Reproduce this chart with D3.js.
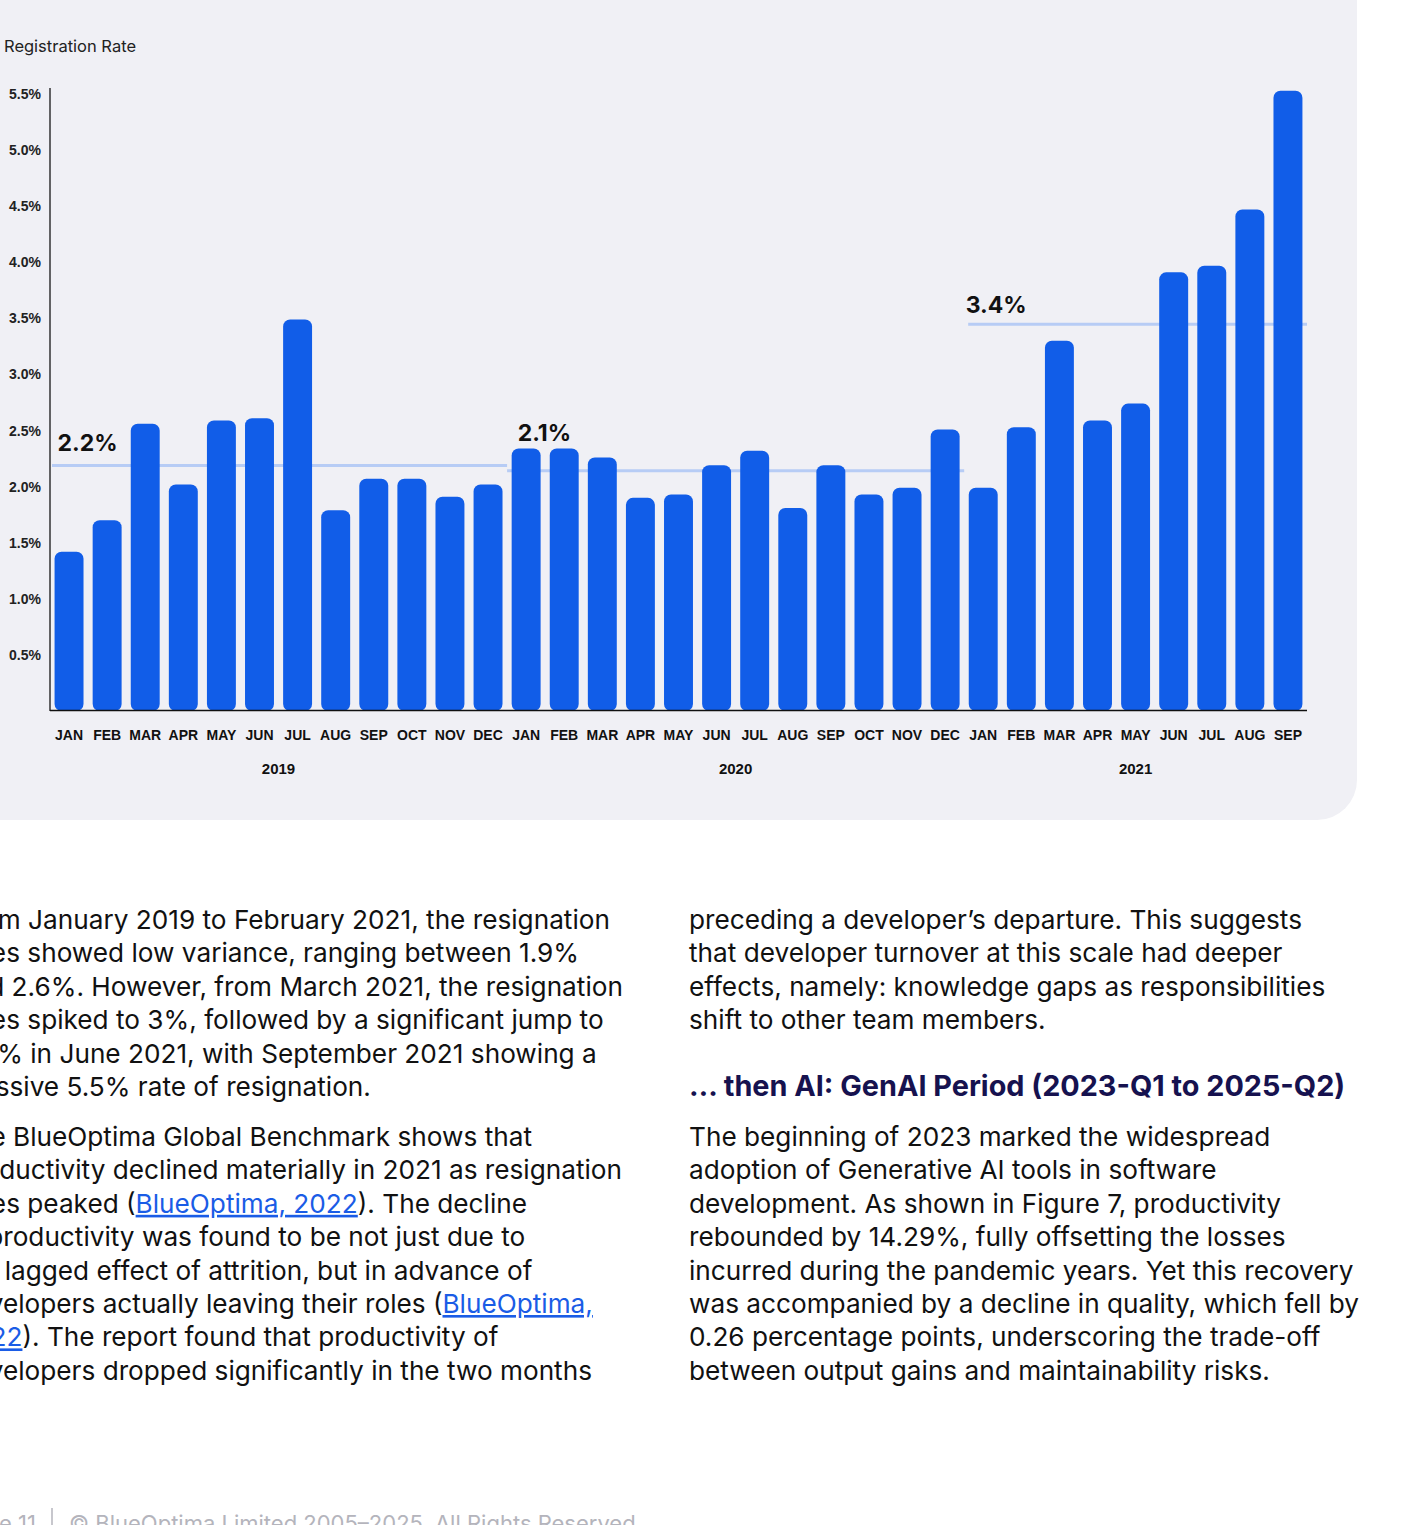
<!DOCTYPE html>
<html><head><meta charset="utf-8">
<script src="https://cdn.jsdelivr.net/npm/d3@7"></script>
<style>body{margin:0;background:#fff;overflow:hidden} svg{display:block}</style>
</head><body><svg id="c" width="1428" height="1525"></svg>
<script>
// ---------- data ----------
const months = ["JAN","FEB","MAR","APR","MAY","JUN","JUL","AUG","SEP","OCT","NOV","DEC",
                "JAN","FEB","MAR","APR","MAY","JUN","JUL","AUG","SEP","OCT","NOV","DEC",
                "JAN","FEB","MAR","APR","MAY","JUN","JUL","AUG","SEP"];
const yearOfBar = ["2019","2019","2019","2019","2019","2019","2019","2019","2019","2019","2019","2019",
                   "2020","2020","2020","2020","2020","2020","2020","2020","2020","2020","2020","2020",
                   "2021","2021","2021","2021","2021","2021","2021","2021","2021"];
const rates = [1.42,1.70,2.56,2.02,2.59,2.61,3.49,1.79,2.07,2.07,1.91,2.02,
               2.34,2.34,2.26,1.90,1.93,2.19,2.32,1.81,2.19,1.93,1.99,2.51,
               1.99,2.53,3.30,2.59,2.74,3.91,3.97,4.47,5.53];
const years = ["2019","2020","2021"];
const avgLabels = ["2.2%","2.1%","3.4%"];
const yTicks = [0.5,1.0,1.5,2.0,2.5,3.0,3.5,4.0,4.5,5.0,5.5];
const yTitle = "Registration Rate";

const leftLines = [
  [{t:"From January 2019 to February 2021, the resignation"}],
  [{t:"rates showed low variance, ranging between 1.9%"}],
  [{t:"and 2.6%. However, from March 2021, the resignation"}],
  [{t:"rates spiked to 3%, followed by a significant jump to"}],
  [{t:"3.9% in June 2021, with September 2021 showing a"}],
  [{t:"massive 5.5% rate of resignation."}],
  null,
  [{t:"The BlueOptima Global Benchmark shows that"}],
  [{t:"productivity declined materially in 2021 as resignation"}],
  [{t:"rates peaked ("},{t:"BlueOptima, 2022",link:true},{t:"). The decline"}],
  [{t:"in productivity was found to be not just due to"}],
  [{t:"the lagged effect of attrition, but in advance of"}],
  [{t:"developers actually leaving their roles ("},{t:"BlueOptima, ",link:true}],
  [{t:"2022",link:true},{t:"). The report found that productivity of"}],
  [{t:"developers dropped significantly in the two months"}]
];
const rightLines1 = [
  "preceding a developer\u2019s departure. This suggests",
  "that developer turnover at this scale had deeper",
  "effects, namely: knowledge gaps as responsibilities",
  "shift to other team members."
];
const heading = "\u2026 then AI: GenAI Period (2023-Q1 to 2025-Q2)";
const rightLines2 = [
  "The beginning of 2023 marked the widespread",
  "adoption of Generative AI tools in software",
  "development. As shown in Figure 7, productivity",
  "rebounded by 14.29%, fully offsetting the losses",
  "incurred during the pandemic years. Yet this recovery",
  "was accompanied by a decline in quality, which fell by",
  "0.26 percentage points, underscoring the trade-off",
  "between output gains and maintainability risks."
];
const footerPage = "Page 11";
const footerText = "\u00A9 BlueOptima Limited 2005\u20132025. All Rights Reserved";

// ---------- drawing ----------
const svg = d3.select("#c");
const BLUE = "#115DE8";
const chartFont = "'Liberation Sans', Arial, sans-serif";
const bodyFont = "Inter, 'Noto Sans', sans-serif";

// panel
svg.append("rect").attr("x",-60).attr("y",-60).attr("width",1417).attr("height",880)
  .attr("rx",40).attr("fill","#F0F0F5");

const idx = d3.range(rates.length);
const x = d3.scaleBand().domain(idx).range([50,1307]).paddingInner(0.24).paddingOuter(0.12);
const y = d3.scaleLinear().domain([0,5.5]).range([711,94]);

// y title
svg.append("text").attr("x",4).attr("y",52).attr("font-family",bodyFont)
  .attr("font-size",16.5).attr("fill","#222").text(yTitle);

// y axis
const yAxis = d3.axisLeft(y).tickValues(yTicks).tickSize(0).tickPadding(9)
  .tickFormat(d => d.toFixed(1) + "%");
const gy = svg.append("g").attr("transform","translate(50,0)").call(yAxis);
gy.select(".domain").remove();
gy.selectAll("text").attr("font-family",chartFont).attr("font-weight","bold")
  .attr("font-size",14).attr("fill","#222");
svg.append("line").attr("x1",50).attr("x2",50).attr("y1",88).attr("y2",711)
  .attr("stroke","#333").attr("stroke-width",1.5);

// average lines
const labelOffsets = [15, 7.5, 11];
years.forEach((yr,k) => {
  const ids = idx.filter(i => yearOfBar[i] === yr);
  const avg = d3.mean(ids, i => rates[i]);
  const step = x.step();
  const x0 = k === 0 ? 52 : x(ids[0]) - step*0.12 + (k === 2 ? 4 : 0);
  const x1 = k === 2 ? 1307 : x(ids[ids.length-1]) + x.bandwidth() + step*0.12;
  svg.append("line").attr("x1",x0).attr("x2",x1).attr("y1",y(avg)).attr("y2",y(avg))
    .attr("stroke","#B7CCF5").attr("stroke-width",3);
  const ly = Math.min(y(avg), y(rates[ids[0]])) - labelOffsets[k];
  svg.append("text").attr("x",x(ids[0]) + (k===1?6:(k===2?-3:3))).attr("y",ly)
    .attr("font-family",bodyFont).attr("font-weight","bold").attr("font-size",23)
    .attr("fill","#111").text(avgLabels[k]);
});

// bars
svg.append("g").selectAll("rect").data(idx).join("rect")
  .attr("x", i => x(i)).attr("width", x.bandwidth())
  .attr("y", i => y(rates[i])).attr("height", i => y(0) - y(rates[i]))
  .attr("rx",7).attr("fill",BLUE);

// x axis
const xAxis = d3.axisBottom(x).tickSize(0).tickPadding(20).tickFormat(i => months[i]);
const gx = svg.append("g").attr("transform","translate(0,710)").call(xAxis);
gx.select(".domain").remove();
gx.selectAll("text").attr("font-family",chartFont).attr("font-weight","bold")
  .attr("font-size",14).attr("fill","#111");
svg.append("line").attr("x1",50).attr("x2",1307).attr("y1",710.5).attr("y2",710.5)
  .attr("stroke","#111").attr("stroke-width",1.5);

// year labels
years.forEach(yr => {
  const ids = idx.filter(i => yearOfBar[i] === yr);
  const cx = (x(ids[0]) + x(ids[ids.length-1]) + x.bandwidth()) / 2;
  svg.append("text").attr("x",cx).attr("y",773.5).attr("text-anchor","middle")
    .attr("font-family",chartFont).attr("font-weight","bold").attr("font-size",15)
    .attr("fill","#111").text(yr);
});

// ---------- body text ----------
const LH = 33.4, FS = 26.2;
function drawLines(lines, x0, yStart) {
  lines.forEach((ln,i) => {
    if (!ln) return;
    const t = svg.append("text").attr("x",x0).attr("y",yStart + i*LH)
      .attr("font-family",bodyFont).attr("font-size",FS).attr("fill","#111");
    (typeof ln === "string" ? [{t:ln}] : ln).forEach(s => {
      const ts = t.append("tspan").text(s.t);
      if (s.link) ts.attr("fill","#1A5CE6").attr("text-decoration","underline");
    });
  });
}
drawLines(leftLines.slice(0,6), -42, 929);
drawLines(leftLines.slice(7), -42, 1146);
drawLines(rightLines1, 689, 929);
svg.append("text").attr("x",689).attr("y",1096).attr("font-family",bodyFont)
  .attr("font-weight","bold").attr("font-size",28.8).attr("fill","#16124F").text(heading);
drawLines(rightLines2, 689, 1146);

// footer
svg.append("text").attr("x",36).attr("y",1531).attr("text-anchor","end").attr("font-family",bodyFont)
  .attr("font-size",22).attr("fill","#B4B4BC").text(footerPage);
svg.append("line").attr("x1",52).attr("x2",52).attr("y1",1508).attr("y2",1525)
  .attr("stroke","#B4B4BC").attr("stroke-width",1.5);
svg.append("text").attr("x",69).attr("y",1531).attr("font-family",bodyFont)
  .attr("font-size",22).attr("fill","#B4B4BC").text(footerText);
</script></body></html>
